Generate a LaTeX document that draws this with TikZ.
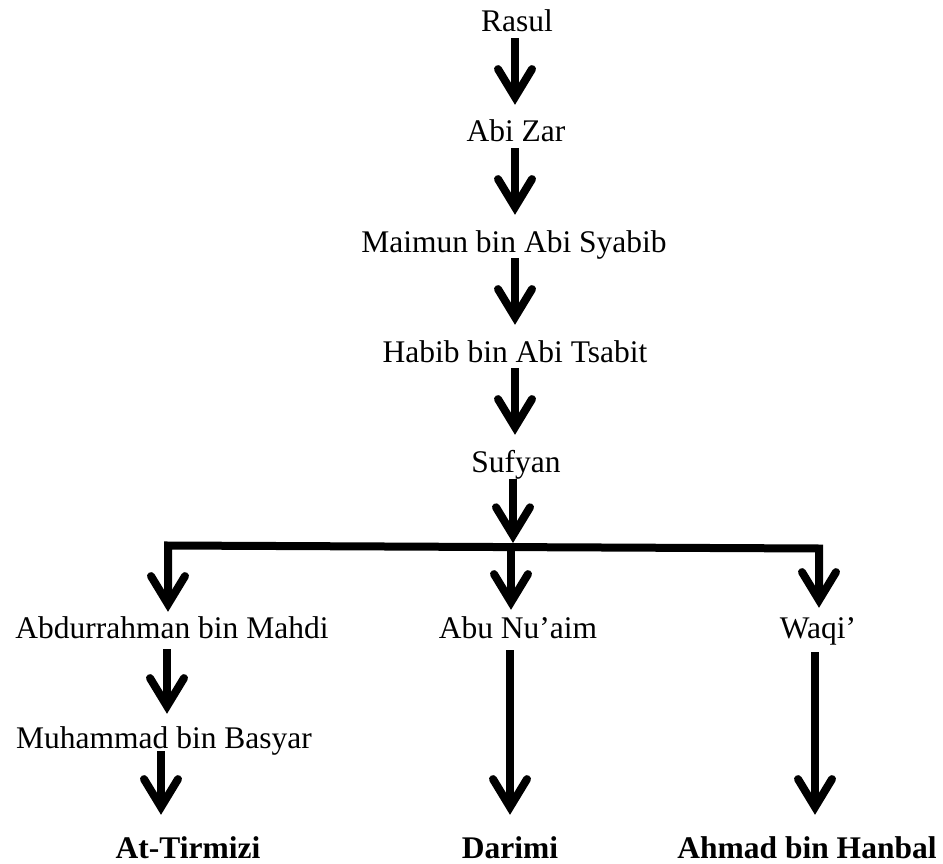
\documentclass[tikz,border=0pt]{standalone}
\usepackage{fontspec}
\setmainfont{Liberation Serif}
\usetikzlibrary{arrows.meta}

\tikzset{
  lbl/.style={inner sep=0pt, anchor=base, text height=22pt, text depth=7pt,
              font=\fontsize{31.5}{38}\selectfont},
  boldlbl/.style={lbl, font=\fontsize{31.5}{38}\selectfont\bfseries},
  barb/.tip={Straight Barb[length=28pt,width=34pt,line cap=round,line join=miter]},
  arr/.style={line width=8pt, -barb},
  barline/.style={line width=8pt, line join=miter, barb-barb},
}

\begin{document}
\begin{tikzpicture}[x=1pt,y=-1pt]
\useasboundingbox (0,0) rectangle (943,864);

% chain of narrators
\node[lbl] (rasul)  at (517,32)  {Rasul};
\node[lbl] (abizar) at (516,142) {Abi Zar};
\node[lbl] (maimun) at (514,252) {Maimun bin Abi Syabib};
\node[lbl] (habib)  at (515,362) {Habib bin Abi Tsabit};
\node[lbl] (sufyan) at (516,472) {Sufyan};
\node[lbl] (abd)    at (172,638) {Abdurrahman bin Mahdi};
\node[lbl] (abu)    at (518,638) {Abu Nu’aim};
\node[lbl] (waqi)   at (818,638) {Waqi’};
\node[lbl] (muh)    at (164,748) {Muhammad bin Basyar};
\node[boldlbl] (tir) at (188,858) {At-Tirmizi};
\node[boldlbl] (dar) at (510,858) {Darimi};
\node[boldlbl] (ahm) at (807,858) {Ahmad bin Hanbal};

% branching bar below Sufyan
\coordinate (bl) at (168,545.5);
\coordinate (bm) at (511,547);
\coordinate (br) at (819,548.5);

% columns of the arrows
\coordinate (colT) at (515,0);
\coordinate (colS) at (513,0);
\coordinate (colA) at (167,0);
\coordinate (colB) at (161,0);
\coordinate (colC) at (510,0);
\coordinate (colD) at (815,0);

% vertical links of the chain
\draw[arr] ([yshift=1pt]rasul.south -| colT)  -- ([yshift=15pt]abizar.north -| colT);
\draw[arr] ([yshift=1pt]abizar.south -| colT) -- ([yshift=15pt]maimun.north -| colT);
\draw[arr] ([yshift=1pt]maimun.south -| colT) -- ([yshift=15pt]habib.north -| colT);
\draw[arr] ([yshift=1pt]habib.south -| colT)  -- ([yshift=15pt]sufyan.north -| colT);
\draw[arr] (sufyan.south -| colS) -- ([yshift=4pt]bm -| colS);

% the three branches
\draw[barline] ([yshift=4pt]abd.north -| bl) -- (bl) -- (br) -- ([yshift=8pt]waqi.north -| br);
\draw[arr] ([yshift=-4pt]bm) -- ([yshift=6pt]abu.north -| bm);

% lower links
\draw[arr] ([yshift=-4pt]abd.south -| colA) -- ([yshift=12pt]muh.north -| colA);
\draw[arr] ([yshift=4pt]muh.south -| colB) -- ([yshift=21pt]tir.north -| colB);
\draw[arr] ([yshift=-5pt]abu.south -| colC) -- ([yshift=21pt]dar.north -| colC);
\draw[arr] ([yshift=-7pt]waqi.south -| colD) -- ([yshift=21pt]ahm.north -| colD);
\end{tikzpicture}
\end{document}
